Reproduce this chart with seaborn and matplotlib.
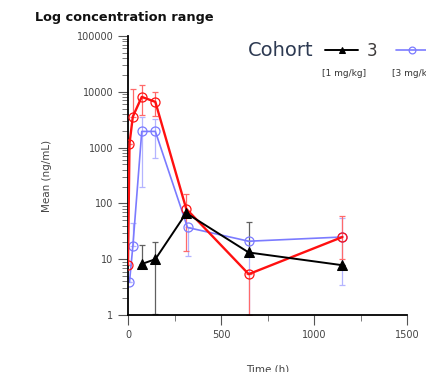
import matplotlib
matplotlib.use("Agg")
import matplotlib.pyplot as plt
import seaborn as sns
import pandas as pd
import numpy as np
from matplotlib.ticker import FixedLocator, FuncFormatter, LogLocator, MultipleLocator

# ---- data ----
cohorts = ["3", "4", "5"]
dose_labels = ["[1 mg/kg]", "[3 mg/kg]", "[10 mg/kg]"]

t_black = [74, 147, 313, 649, 1153]
m_black = [8.2, 10, 67, 13.2, 7.8]
lo_black = [8.2, 1.03, 67, 13.2, 7.8]
hi_black = [18, 20, 67, 47, 7.8]

t_blue = [8, 26, 74, 147, 320, 649, 1153]
m_blue = [3.9, 17, 1950, 1950, 37, 21, 25]
lo_blue = [3.9, 17, 195, 660, 11.5, 1.0, 3.5]
hi_blue = [3.9, 45, 3600, 3200, 37, 21, 55]

t_red = [0, 8, 26, 74, 147, 313, 649, 1153]
m_red = [8, 1170, 3600, 8100, 6600, 80, 5.4, 25]
lo_red = [8, 1170, 3600, 3900, 3700, 14, 1.0, 10]
hi_red = [8, 1170, 11000, 13000, 10000, 150, 5.4, 60]

x_ticks = [0, 500, 1000, 1500]
y_ticks = [1, 10, 100, 1000, 10000, 100000]

c_black, c_blue, c_red = "#000000", "#7b7bff", "#ff1010"
e_black, e_blue, e_red = "#606060", "#b4b4ff", "#ff6a6a"

sns.set_style("white")
plt.rcParams["font.family"] = ["DejaVu Sans"]

fig = plt.figure(figsize=(4.26, 3.72), dpi=100)
ax = fig.add_axes([128 / 426, 1 - 315 / 372, (407 - 128) / 426, (315 - 36) / 372])

def err(ax, t, m, lo, hi, col):
    m = np.array(m); lo = np.array(lo); hi = np.array(hi)
    ax.errorbar(t, m, yerr=[m - lo, hi - m], fmt="none", ecolor=col,
                elinewidth=0.9, capsize=2.5, capthick=0.9, zorder=1)

err(ax, t_blue, m_blue, lo_blue, hi_blue, e_blue)
err(ax, t_red, m_red, lo_red, hi_red, e_red)
err(ax, t_black, m_black, lo_black, hi_black, e_black)

df_b = pd.DataFrame({"Time": t_black, "Mean": m_black})
df_u = pd.DataFrame({"Time": t_blue, "Mean": m_blue})
df_r = pd.DataFrame({"Time": t_red, "Mean": m_red})

sns.lineplot(data=df_u, x="Time", y="Mean", ax=ax, color=c_blue, lw=1.2,
             marker="o", ms=6.5, mfc="none", mec=c_blue, mew=0.9, zorder=2,
             label=cohorts[1])
sns.lineplot(data=df_r, x="Time", y="Mean", ax=ax, color=c_red, lw=1.7,
             marker="o", ms=6.5, mfc="none", mec=c_red, mew=0.9, zorder=3,
             label=cohorts[2])
sns.lineplot(data=df_b, x="Time", y="Mean", ax=ax, color=c_black, lw=1.4,
             marker="^", ms=6.5, mfc=c_black, mec=c_black, zorder=4,
             label=cohorts[0])

ax.set_yscale("log")
ax.set_ylim(1, 100000)
ax.set_xlim(0, 1500)
ax.yaxis.set_major_locator(FixedLocator(y_ticks))
ax.yaxis.set_major_formatter(FuncFormatter(lambda v, p: f"{int(round(v))}"))
ax.yaxis.set_minor_locator(LogLocator(base=10, subs=np.arange(2, 10)))
ax.yaxis.set_minor_formatter(FuncFormatter(lambda v, p: ""))
ax.xaxis.set_major_locator(FixedLocator(x_ticks))
ax.xaxis.set_minor_locator(MultipleLocator(250))
for s in ["top", "right"]:
    ax.spines[s].set_visible(False)
for s in ["left", "bottom"]:
    ax.spines[s].set_color("black")
    ax.spines[s].set_linewidth(1.3)
ax.tick_params(axis="both", which="major", direction="out", length=7, width=0.8,
               labelsize=7, labelcolor="#444444", color="#555555", left=True, bottom=True)
ax.tick_params(axis="both", which="minor", direction="out", length=4, width=0.6,
               color="#666666", left=True, bottom=True)
ax.set_xlabel("Time (h)", fontsize=7.5, color="#444444", labelpad=18)
ax.set_ylabel("Mean (ng/mL)", fontsize=7.5, color="#444444", labelpad=18)

fig.text(35 / 426, 1 - 18 / 372, "Log concentration range", fontsize=9.3,
         fontweight="bold", color="#111111", va="center", ha="left")

# legend
fig.text(248 / 426, 1 - 51 / 372, "Cohort", fontsize=14, color="#2d3a52",
         va="center", ha="left")
h, l = ax.get_legend_handles_labels()
order = [l.index(c) for c in cohorts]
leg = fig.legend([h[i] for i in order], [l[i] for i in order], ncol=3,
                 loc="center left", bbox_to_anchor=(325 / 426, 1 - 51 / 372),
                 frameon=False, fontsize=12, handlelength=2.0, handletextpad=0.5,
                 columnspacing=1.1, borderpad=0, borderaxespad=0,
                 markerscale=0.75, labelcolor="#3d3a3a")
if ax.get_legend():
    ax.get_legend().remove()
fig.canvas.draw()
r = fig.canvas.get_renderer()
for hdl, txt, lab in zip(leg.legend_handles, leg.get_texts(), dose_labels):
    bb = txt.get_window_extent(r)
    hb = hdl.get_window_extent(r)
    x0 = hb.x0 / fig.bbox.width
    fig.text(x0, 1 - 73 / 372, lab, fontsize=6.5, color="#333333",
             ha="left", va="center")

fig.savefig("out.png", dpi=100)
